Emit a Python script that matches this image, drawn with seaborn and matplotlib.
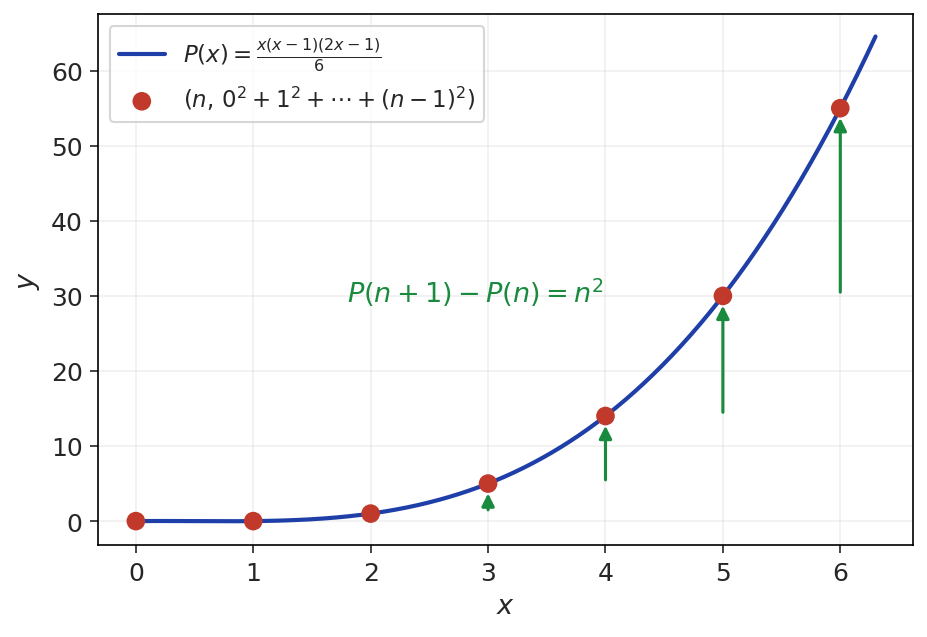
import numpy as np
import matplotlib
matplotlib.use("Agg")
import matplotlib.pyplot as plt
import seaborn as sns

sns.set_style("white")
plt.rcParams['font.family'] = ['DejaVu Sans']

n_vals = [0, 1, 2, 3, 4, 5, 6]
sums = [0, 0, 1, 5, 14, 30, 55]
arrow_x = [2, 3, 4, 5, 6]
arrow_from = [0, 1, 5, 14, 30]
arrow_to = [1, 5, 14, 30, 55]

x = np.linspace(0, 6.3, 400)
P = x * (x - 1) * (2 * x - 1) / 6

fig, ax = plt.subplots(figsize=(6.18, 4.253), dpi=150)
fig.subplots_adjust(left=0.106, right=0.985, top=0.976, bottom=0.144)

sns.lineplot(x=x, y=P, ax=ax, color="#1f3fa8", lw=2,
             label=r"$P(x)=\frac{x(x-1)(2x-1)}{6}$")
sns.scatterplot(x=n_vals, y=sums, ax=ax, color="#c0392b", s=80, zorder=5,
                edgecolor="none", label=r"$(n,\,0^2+1^2+\cdots+(n-1)^2)$")

for xa, y0, y1 in zip(arrow_x, arrow_from, arrow_to):
    ax.annotate("", xy=(xa, y1 - 1.3), xytext=(xa, y0 + 0.5),
                arrowprops=dict(arrowstyle="-|>,head_width=0.25,head_length=0.5",
                                color="#1a8a3e", lw=1.5, shrinkA=0, shrinkB=0),
                zorder=4)

ax.text(1.8, 30.5, r"$P(n+1)-P(n)=n^2$", color="#1a8a3e", fontsize=13,
        va="center")

ax.set_xlim(-0.32, 6.62)
ax.set_ylim(-3.2, 67.5)
ax.set_xticks(range(7))
ax.set_yticks(range(0, 61, 10))
ax.tick_params(labelsize=12, length=4, left=True, bottom=True)
ax.set_xlabel("$x$", fontsize=13)
ax.set_ylabel("$y$", fontsize=13)
ax.grid(True, alpha=0.3)
for s in ax.spines.values():
    s.set_color("black")
ax.legend(loc="upper left", fontsize=11)
fig.savefig("out.png", dpi=150)
